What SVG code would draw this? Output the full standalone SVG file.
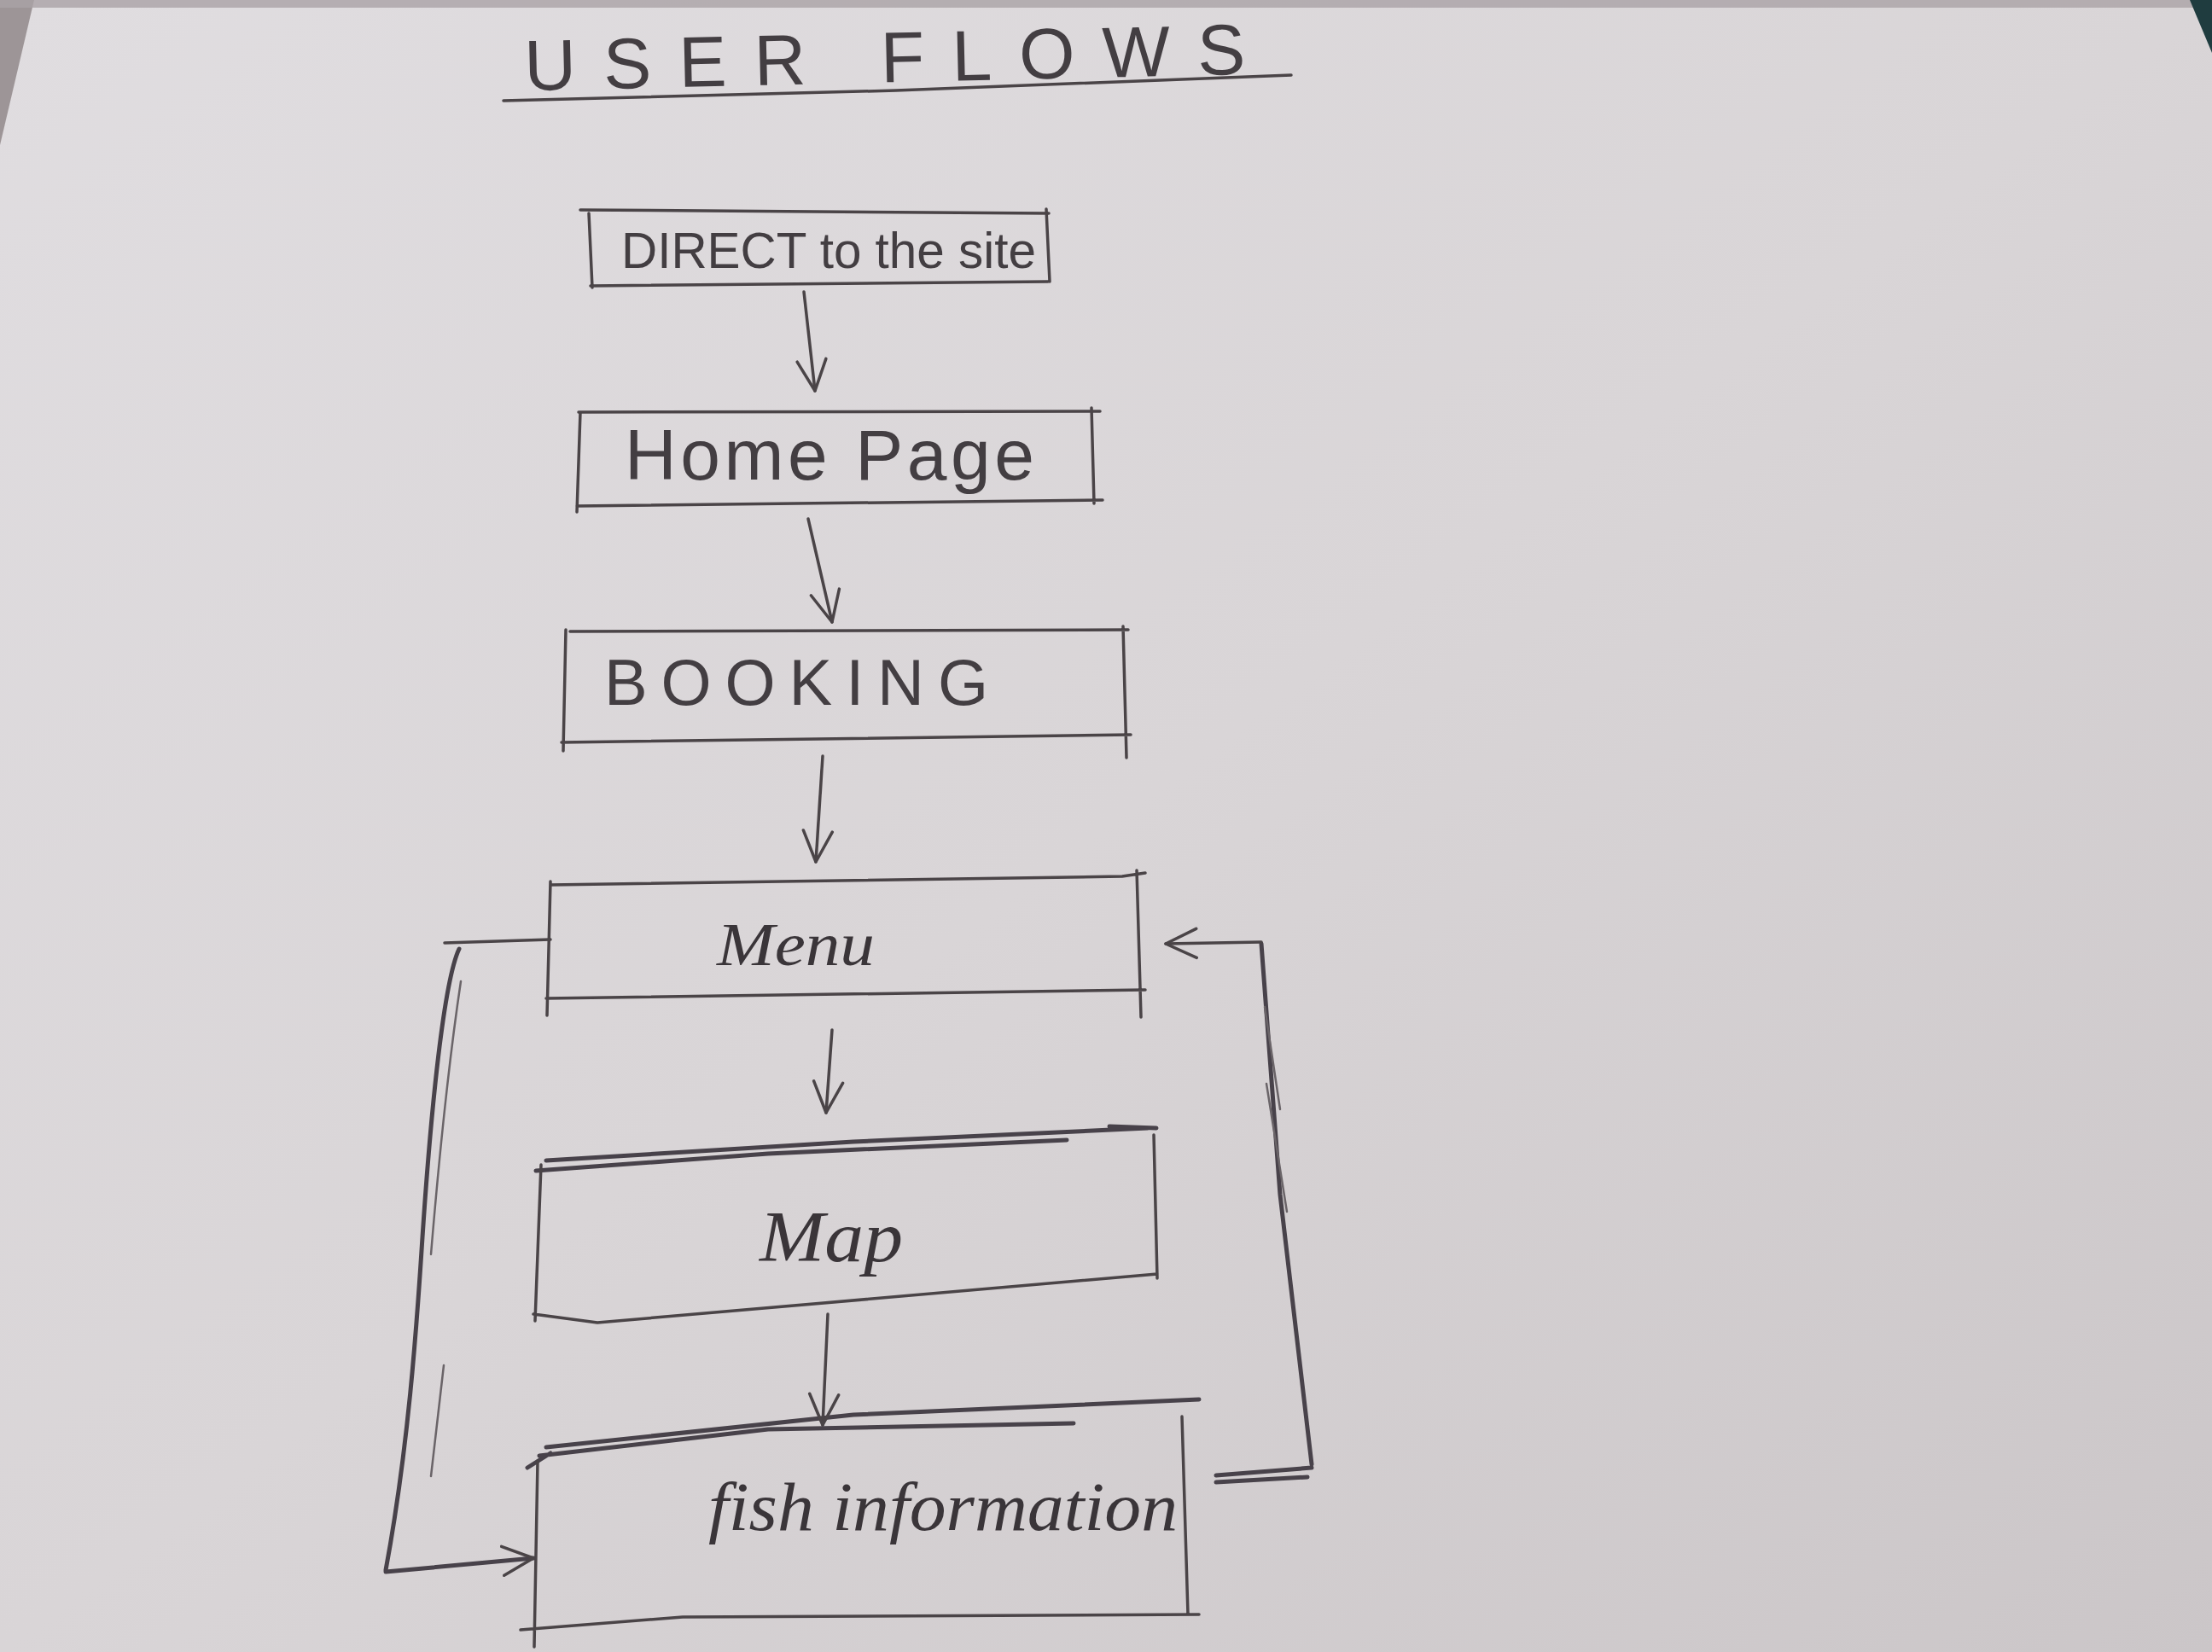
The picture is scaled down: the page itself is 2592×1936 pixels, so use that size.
<svg xmlns="http://www.w3.org/2000/svg" width="2592" height="1936" viewBox="0 0 2592 1936">
  <defs>
    <linearGradient id="paper" x1="0" y1="0" x2="1" y2="1">
      <stop offset="0" stop-color="#e0dde0"/>
      <stop offset="0.5" stop-color="#d9d5d7"/>
      <stop offset="1" stop-color="#cbc6c8"/>
    </linearGradient>
    <marker id="arrow" viewBox="0 0 40 40" refX="38" refY="20" markerWidth="40" markerHeight="40" markerUnits="userSpaceOnUse" orient="auto">
      <path d="M2,3 L38,20 L2,37" fill="none" stroke="#4a4447" stroke-width="3.5" stroke-linecap="round" stroke-linejoin="round"/>
    </marker>
  </defs>
  <style>
    .pencil { fill: none; stroke: #4a4447; stroke-width: 3.5; stroke-linecap: round; stroke-linejoin: round; }
    .heavy { stroke-width: 5; stroke: #48424a; }
    .faint { stroke: #6a6468; stroke-width: 2.5; }
    .label { font-family: "Liberation Sans", "DejaVu Sans", sans-serif; fill: #433e42; }
    .script { font-family: "Liberation Serif", "DejaVu Serif", serif; font-style: italic; fill: #3a3539; }
  </style>

  <!-- paper -->
  <rect x="0" y="0" width="2592" height="1936" fill="url(#paper)"/>
  <polygon points="0,0 40,0 0,170" fill="#9d9597"/>
  <rect x="0" y="0" width="2592" height="9" fill="#aaa3a6" opacity="0.8"/>
  <polygon points="2566,0 2592,0 2592,62" fill="#1f3c3f"/>

  <!-- title -->
  <g id="title">
    <text class="label" x="615" y="106" font-size="84" textLength="845" lengthAdjust="spacing" transform="rotate(-1.3 615 106)">USER FLOWS</text>
    <path class="pencil" d="M590,118 L1050,106 L1513,88"/>
  </g>

  <!-- nodes -->
  <g id="node-direct">
    <path class="pencil" d="M680,246 L1229,250 M690,250 L694,337 M1226,245 L1230,330 M692,335 L1228,330"/>
    <text class="label" x="728" y="314" font-size="60" textLength="486" lengthAdjust="spacingAndGlyphs">DIRECT to the site</text>
  </g>

  <g id="node-home">
    <path class="pencil" d="M678,483 L1289,482 M680,483 L676,600 M1279,478 L1282,590 M676,593 L1292,586"/>
    <text class="label" x="732" y="562" font-size="84" textLength="480" lengthAdjust="spacing">Home Page</text>
  </g>

  <g id="node-booking">
    <path class="pencil" d="M668,740 L1322,738 M663,738 L660,880 M1316,734 L1320,888 M658,870 L1325,861"/>
    <text class="label" x="708" y="826" font-size="76" textLength="450" lengthAdjust="spacing">BOOKING</text>
  </g>

  <g id="node-menu">
    <path class="pencil" d="M645,1037 L1315,1027 L1342,1023 M645,1033 L641,1190 M1332,1020 L1337,1192 M640,1170 L1342,1160"/>
    <text class="script" x="840" y="1131" font-size="72" textLength="185" lengthAdjust="spacingAndGlyphs">Menu</text>
  </g>

  <g id="node-map">
    <path class="pencil heavy" d="M640,1360 L1000,1338 L1345,1322 M628,1372 L900,1352 L1250,1336 M1300,1320 L1355,1322"/>
    <path class="pencil" d="M634,1365 L627,1548 M1352,1330 L1356,1498 M625,1540 L700,1550 L1356,1493"/>
    <text class="script" x="890" y="1478" font-size="84" textLength="168" lengthAdjust="spacingAndGlyphs">Map</text>
  </g>

  <g id="node-fish">
    <path class="pencil heavy" d="M640,1696 L1000,1658 L1405,1640 M632,1706 L900,1675 L1258,1668 M618,1720 L645,1703"/>
    <path class="pencil" d="M630,1712 L626,1930 M1385,1660 L1392,1892 M610,1910 L800,1895 L1405,1892"/>
    <text class="script" x="830" y="1793" font-size="80" textLength="550" lengthAdjust="spacingAndGlyphs">fish information</text>
  </g>

  <!-- connectors -->
  <g id="connectors">
    <path class="pencil" d="M942,342 L955,458" marker-end="url(#arrow)"/>
    <path class="pencil" d="M947,608 L975,729" marker-end="url(#arrow)"/>
    <path class="pencil" d="M964,886 L956,1010" marker-end="url(#arrow)"/>
    <path class="pencil" d="M975,1207 L968,1304" marker-end="url(#arrow)"/>
    <path class="pencil" d="M970,1540 L964,1670" marker-end="url(#arrow)"/>
    <!-- left loop: Menu to fish information -->
    <path class="pencil" d="M521,1105 L645,1101"/>
    <path class="pencil heavy" d="M538,1112 C520,1150 505,1300 495,1450 C488,1560 478,1700 452,1840"/>
    <path class="pencil faint" d="M540,1150 C525,1250 515,1350 505,1470 M520,1600 L505,1730"/>
    <path class="pencil heavy" d="M452,1842 L625,1826" marker-end="url(#arrow)"/>
    <!-- right loop: fish information back to Menu -->
    <path class="pencil heavy" d="M1425,1729 L1537,1720 M1425,1737 L1532,1731"/>
    <path class="pencil heavy" d="M1537,1716 L1500,1400 L1478,1106"/>
    <path class="pencil faint" d="M1482,1180 L1500,1300 M1484,1270 L1508,1420"/>
    <path class="pencil" d="M1478,1104 L1366,1106" marker-end="url(#arrow)"/>
  </g>
</svg>
